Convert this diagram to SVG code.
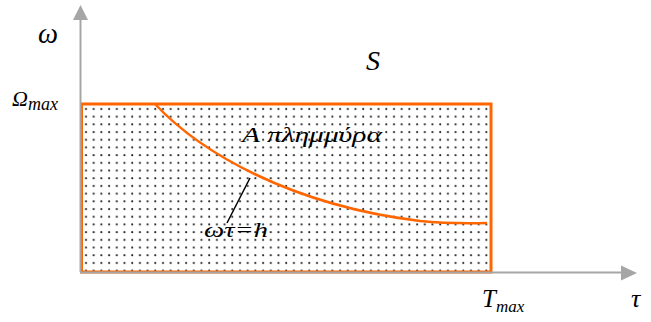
<svg xmlns="http://www.w3.org/2000/svg" width="651" height="322" viewBox="0 0 651 322">
<style>
text{font-family:"Liberation Serif","DejaVu Serif","Times New Roman",serif;font-style:italic;fill:#000}
.ax{stroke:#a6a6a6;stroke-width:2;fill:none}
.ah{fill:#a6a6a6}
</style>
<defs>
<pattern id="dots" x="81" y="104" width="7.7" height="7.7" patternUnits="userSpaceOnUse">
<circle cx="5" cy="5" r="1.05" fill="#222"/>
</pattern>
</defs>
<rect width="651" height="322" fill="#fff"/>
<g id="region">
<rect x="81.5" y="104" width="409.5" height="168" fill="url(#dots)" stroke="#ff6600" stroke-width="3"/>
</g>
<g id="axes">
<line class="ax" x1="80.5" y1="272" x2="80.5" y2="18"/>
<polygon class="ah" points="80.5,5 73,20 88,20"/>
<line class="ax" x1="80" y1="272.5" x2="624" y2="272.5"/>
<polygon class="ah" points="637,273 621,265.5 621,280.5"/>
</g>
<g id="connectors">
<path d="M155,104 C200,152 290,205 420,221 Q450,224 487,223" fill="none" stroke="#ff6600" stroke-width="2.5"/>
<line x1="250" y1="178" x2="227" y2="223" stroke="#000" stroke-width="1.5"/>
</g>
<g id="labels">
<text x="38" y="43" font-size="29" textLength="20" lengthAdjust="spacingAndGlyphs">ω</text>
<text x="12" y="106" font-size="22">Ω<tspan font-size="18" dy="4">max</tspan></text>
<text x="366" y="70" font-size="28">S</text>
<text x="242" y="142" font-size="21" textLength="140" lengthAdjust="spacingAndGlyphs">Α πλημμύρα</text>
<text x="204" y="237" font-size="21" textLength="64" lengthAdjust="spacingAndGlyphs">ωτ=h</text>
<text x="482" y="307" font-size="25">T<tspan font-size="17" dy="5">max</tspan></text>
<text x="631" y="307" font-size="26">τ</text>
</g>
</svg>
